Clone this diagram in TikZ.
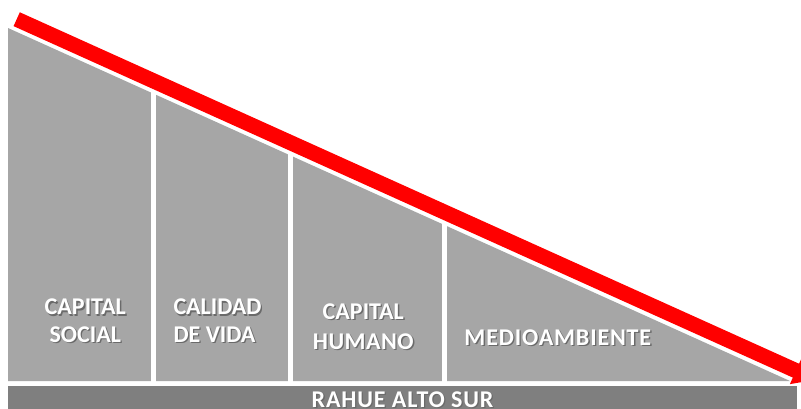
\documentclass[tikz,border=0pt]{standalone}
\usepackage{fontspec}
\setmainfont{Carlito}
\usetikzlibrary{arrows.meta}
\definecolor{tri}{HTML}{A6A6A6}
\definecolor{barc}{HTML}{7F7F7F}
\definecolor{arr}{HTML}{FF0000}
\definecolor{shd}{HTML}{6A6A6A}
\newcommand\shd[1]{\leavevmode\rlap{\kern1.3pt\raisebox{-1.3pt}{\textcolor{shd}{#1}}}#1}
\tikzset{
  lab/.style={text=white,font=\fontsize{24}{27.5}\selectfont\bfseries,inner sep=0pt},
  wide/.style={font=\fontsize{24}{27.5}\selectfont\bfseries\addfontfeature{LetterSpace=3.5}},
  divider/.style={white,line width=5pt},
  bigarrow/.style={arr,line width=15.2pt,-{Triangle[length=22pt,width=28pt]}}
}
\begin{document}
\begin{tikzpicture}[x=1pt,y=-1pt]
\useasboundingbox (0,0) rectangle (801,408);
\begin{scope}
\clip (0,0) rectangle (801,408);
\fill[tri] (8,28) -- (8,381) -- (790,381) -- cycle;
\draw[divider] (153.5,60) -- (153.5,382);
\draw[divider] (290.5,60) -- (290.5,382);
\draw[divider] (444.5,60) -- (444.5,382);
\fill[barc] (8,386) rectangle (797,420);
\coordinate (as) at (16.7,19.2);
\coordinate (ae) at (816,379.7);
\draw[bigarrow] (as) -- (ae);
\node[lab,align=center] (cs) at (85.3,321.5) {\shd{CAPITAL}\\\shd{SOCIAL}};
\node[lab,align=left,anchor=west] (cv) at (173.3,321.5) {\shd{CALIDAD}\\\shd{DE VIDA}};
\node[lab,align=center,font=\fontsize{24}{30}\selectfont\bfseries] (ch) at (363.3,327) {\shd{CAPITAL}\\\addfontfeature{LetterSpace=2}\shd{HUMANO}};
\node[lab,wide] (ma) at (557.8,338.5) {\shd{MEDIOAMBIENTE}};
\node[lab,wide,anchor=base] (ra) at (402.5,407) {\shd{RAHUE ALTO SUR}};
\end{scope}
\end{tikzpicture}
\end{document}
